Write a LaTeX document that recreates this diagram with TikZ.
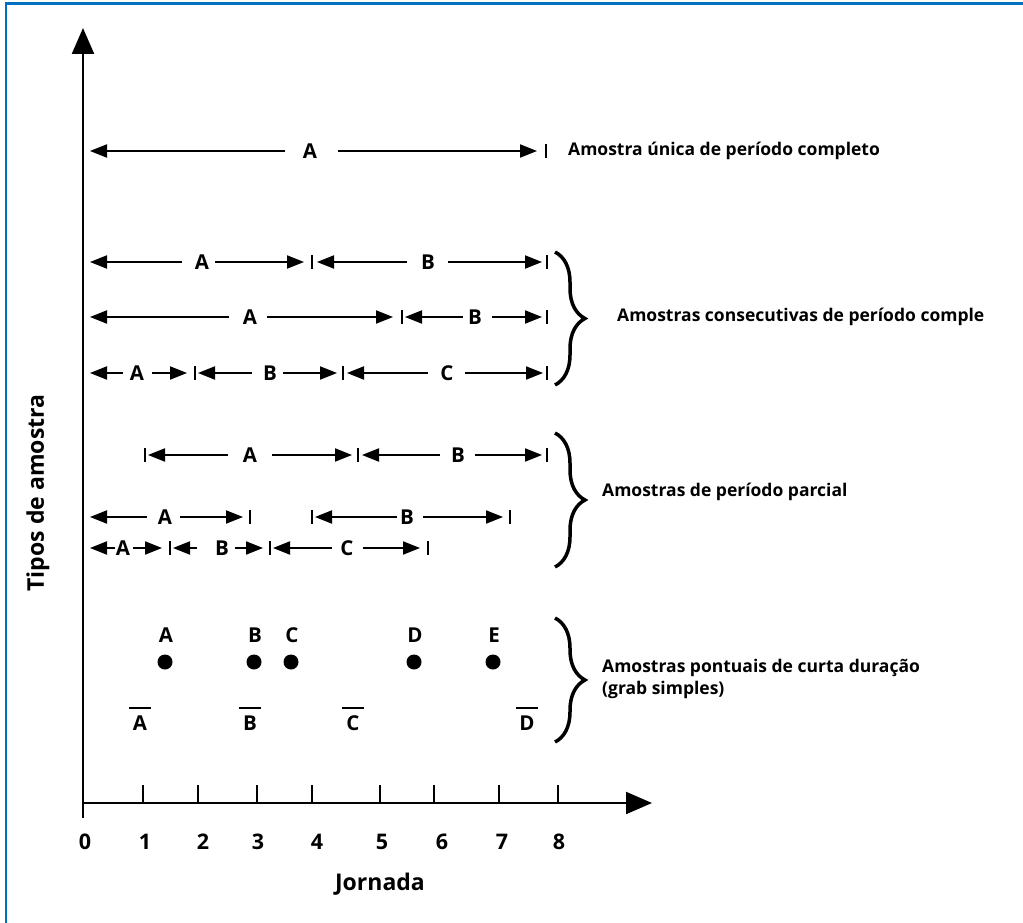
\documentclass[tikz,border=0pt]{standalone}
\usepackage{fontspec}
\setmainfont{Open Sans}
\usetikzlibrary{arrows.meta,decorations.pathreplacing}
\definecolor{moldura}{RGB}{0,112,192}
\tikzset{
  seta/.style={line width=2pt,-{Triangle[length=17pt,width=13pt]}},
  eixo/.style={line width=2.2pt,-{Triangle[length=26pt,width=22pt]}},
  barra/.style={line width=2pt},
  letra/.style={inner sep=0pt,font=\fontsize{20.5}{20}\selectfont\bfseries},
  num/.style={inner sep=0pt,font=\fontsize{21.5}{20}\selectfont\bfseries},
  titulo/.style={inner sep=0pt,font=\fontsize{23}{22}\selectfont\bfseries},
  texto/.style={anchor=west,inner sep=0pt,align=left,font=\fontsize{17.5}{22}\selectfont\bfseries},
  chave/.style={line width=3.5pt,decorate,decoration={brace,amplitude=30pt}},
}
\begin{document}
\begin{tikzpicture}[x=1pt,y=-1pt]
\useasboundingbox (0,0) rectangle (1023,923);
\draw[moldura,line width=2.5pt] (6,923)--(6,3.5)--(1023,3.5);
% eixos
\coordinate (base) at (83,818);
\coordinate (O) at (83,803);
\coordinate (topo) at (83,28);
\coordinate (fim) at (652,803);
\draw[eixo] (base)--(topo);
\draw[eixo] (O)--(fim);
\foreach \x in {143,198,257,312,380,434,499,558}
  \draw[barra] (\x,785)--(\x,803);
\foreach \x/\n in {85/0,145/1,203/2,258/3,317/4,382/5,442/6,502/7,559/8}
  \node[num] (n\n) at (\x,842) {\n};
\node[titulo] (jornada) at (380,884) {Jornada};
\node[titulo,rotate=90] (tipos) at (38,493) {Tipos de amostra};
% intervalos
\foreach \y/\xa/\ga/\xl/\gb/\xb/\t [count=\i] in {
  151/90/25/310/28/537/A,
  262/90/20/202/13/304/A, 262/317/21/428/20/542/B,
  317/90/21/250/17/393/A, 317/405/12/475/17/542/B,
  373/90/14/137/15/187/A, 373/198/18/270/13/337/B, 373/347/19/447/18/543/C,
  455/148/22/250/22/352/A, 455/362/18/458/17/542/B,
  517/90/18/165/15/243/A, 517/315/10/407/16/503/B,
  548/90/8/123/10/162/A, 548/173/25/222/13/263/B, 548/273/15/347/16/420/C}{
  \coordinate (e\i) at (\xa,\y);
  \coordinate (d\i) at (\xb,\y);
  \node[letra] (l\i) at (\xl,\y) {\t};
  \draw[seta] ([xshift=-\ga pt]l\i.center)--(e\i);
  \draw[seta] ([xshift=\gb pt]l\i.center)--(d\i);
}
\foreach \x/\y in {546/151, 312/262, 547/262, 402/317, 547/317,
  195/373, 343/373, 547/373, 145/455, 358/455, 547/455,
  250/517, 312/517, 510/517, 170/548, 270/548, 428/548}
  \draw[barra] (\x,\y-7)--(\x,\y+7);
% pontuais
\foreach \x/\t in {165/A,254/B,291/C,414/D,493/E}{
  \fill (\x,662) circle (7.5);
  \node[letra] (p\t) at (\x+1,635) {\t};
}
\foreach \x/\t in {140/A,250/B,353/C,527/D}{
  \node[letra] (q\t) at (\x,723) {\t};
  \draw[barra] ([xshift=-11pt,yshift=15pt]q\t.center)--([xshift=11pt,yshift=15pt]q\t.center);
}
% chaves
\draw[chave] (555,252)--(555,385);
\draw[chave] (555,433)--(555,567);
\draw[chave] (555,618)--(555,742);
\node[texto] (t1) at (568,151) {Amostra única de período completo};
\node[texto] (t2) at (617,317) {Amostras consecutivas de período comple};
\node[texto] (t3) at (602,492) {Amostras de período parcial};
\node[texto] (t4) at (602,679) {Amostras pontuais de curta duração\\(grab simples)};
\end{tikzpicture}
\end{document}
